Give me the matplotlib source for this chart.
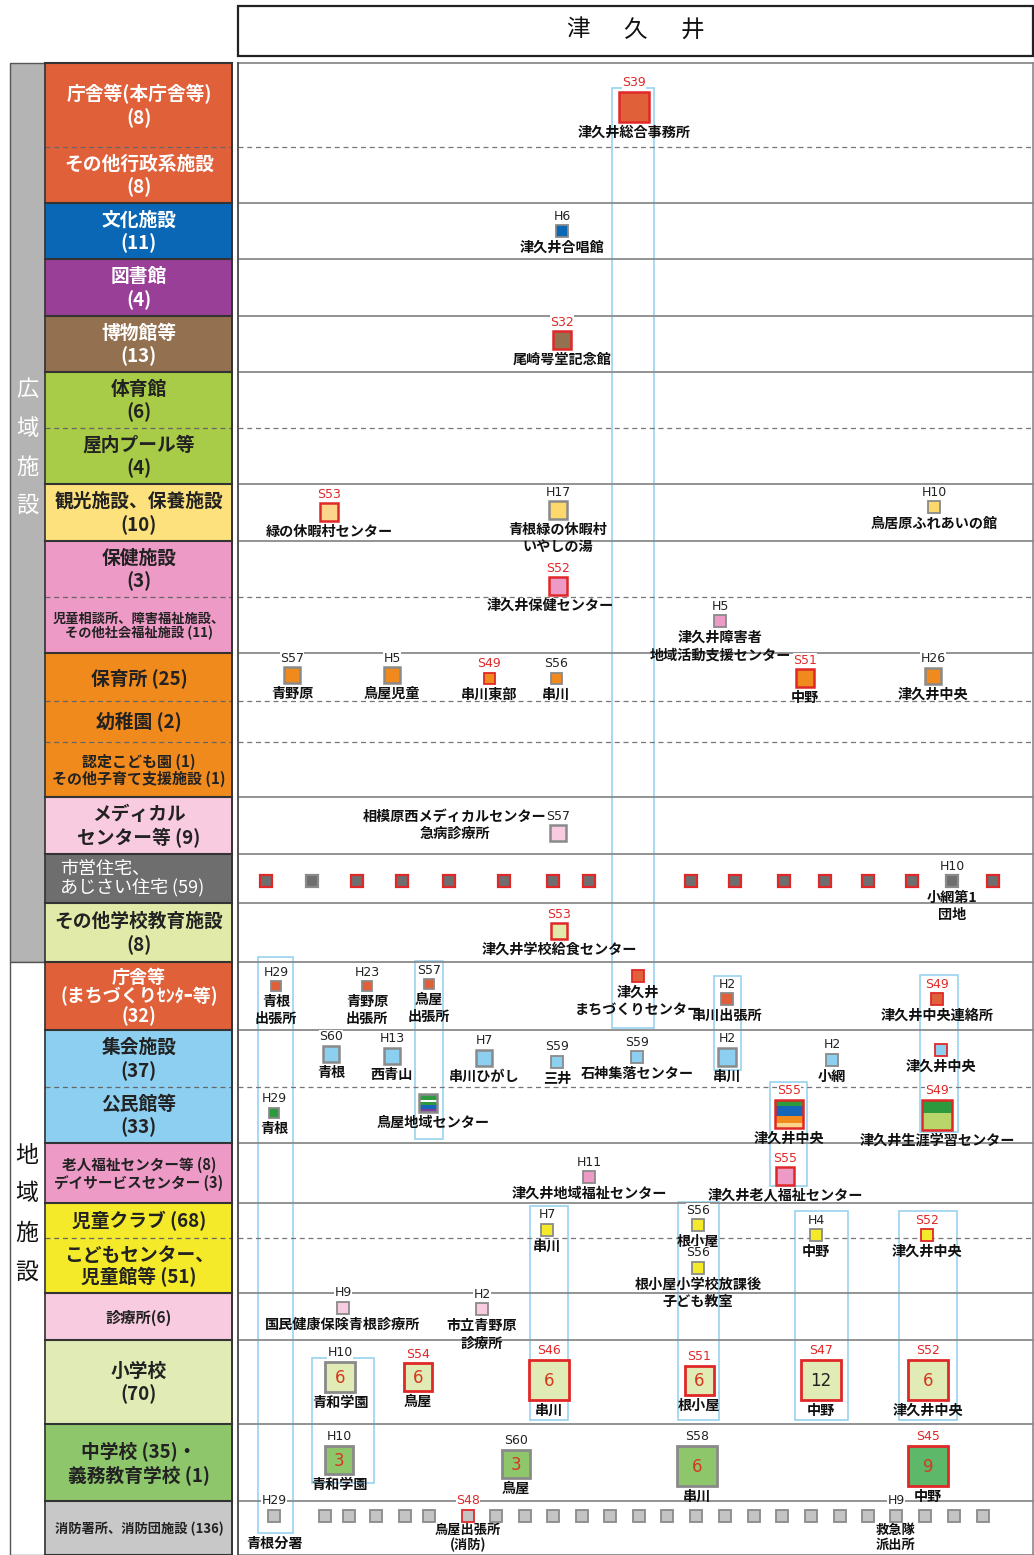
import matplotlib.pyplot as plt
from matplotlib.patches import Rectangle

plt.rcParams['font.family'] = ['Noto Sans CJK JP', 'DejaVu Sans']
ERA_FONT = ['Liberation Sans Narrow', 'DejaVu Sans']

W, H = 1034, 1555

# ---- category rows (label column) ----
row_labels = [
    '庁舎等(本庁舎等)\n(8)', 'その他行政系施設\n(8)', '文化施設\n(11)', '図書館\n(4)',
    '博物館等\n(13)', '体育館\n(6)', '屋内プール等\n(4)', '観光施設、保養施設\n(10)',
    '保健施設\n(3)', '児童相談所、障害福祉施設、\nその他社会福祉施設 (11)', '保育所 (25)',
    '幼稚園 (2)', '認定こども園 (1)\nその他子育て支援施設 (1)', 'メディカル\nセンター等 (9)',
    '市営住宅、\nあじさい住宅 (59)', 'その他学校教育施設\n(8)',
    '庁舎等\n(まちづくりｾﾝﾀｰ等)\n(32)', '集会施設\n(37)', '公民館等\n(33)',
    '老人福祉センター等 (8)\nデイサービスセンター (3)', '児童クラブ (68)',
    'こどもセンター、\n児童館等 (51)', '診療所(6)', '小学校\n(70)',
    '中学校 (35)・\n義務教育学校 (1)', '消防署所、消防団施設 (136)',
]
row_colors = [
    '#E0603A', '#E0603A', '#0A67B5', '#993F97', '#93704F', '#A8CC47', '#A8CC47',
    '#FDE17C', '#EE9AC7', '#EE9AC7', '#F08A1D', '#F08A1D', '#F08A1D', '#F8CBE0',
    '#6E6E6E', '#E1EAA8', '#E0603A', '#8DCFF0', '#8DCFF0', '#EE9AC7', '#F5EA2A',
    '#F5EA2A', '#F8CBE0', '#E0EBB5', '#8EC66C', '#C8C8C8',
]
row_text = ['white'] * 5 + ['#222'] * 9 + ['white', '#222', 'white'] + ['#222'] * 9
row_fsize = [13.5] * 9 + [9.5] + [13.5, 13.5, 10.8, 13.5, 13, 13.5, 13, 13.5, 13.5,
                                  10.5, 13.5, 13.5, 11, 13.5, 13.5, 9.5]
row_edges = [63, 147, 203, 259, 316, 372, 428, 484, 541, 597, 653, 701, 742, 797,
             854, 903, 962, 1030, 1087, 1143, 1203, 1238, 1293, 1340, 1424, 1501, 1555]
dashed_edges = [147, 428, 597, 701, 742, 1087, 1238]

# ---- facilities: (x, y, size, colour, built before S55, era, name) ----
colors = {
    'gov': '#E0603A', 'cult': '#0A67B5', 'mus': '#93704F', 'tour': '#FCD96A',
    'tour2': '#FAD58A', 'health': '#EE9AC7', 'nurs': '#F08A1D', 'med': '#F8CBE0',
    'house': '#6E6E6E', 'sch': '#E1EAA8', 'meet': '#8DCFF0', 'komin': '#2E9A3E',
    'elder': '#EE9AC7', 'kids': '#F5EA2A', 'clinic': '#F8CBE0', 'fire': '#C4C4C4',
    'elem': '#E0EBB5', 'jhs': '#8EC66C', 'jhs2': '#5DB86A',
}
wide_facilities = [
    (634, 107, 30, 'gov', True, 'S39', '津久井総合事務所'),
    (562, 231, 12, 'cult', False, 'H6', '津久井合唱館'),
    (562, 340, 18, 'mus', True, 'S32', '尾崎咢堂記念館'),
    (329, 512, 18, 'tour2', True, 'S53', '緑の休暇村センター'),
    (558, 510, 18, 'tour', False, 'H17', '青根緑の休暇村\nいやしの湯'),
    (934, 507, 12, 'tour', False, 'H10', '鳥居原ふれあいの館'),
    (558, 586, 18, 'health', True, 'S52', '津久井保健センター'),
    (720, 621, 12, 'health', False, 'H5', '津久井障害者\n地域活動支援センター'),
    (292, 675, 16, 'nurs', False, 'S57', '青野原'),
    (392, 675, 16, 'nurs', False, 'H5', '鳥屋児童'),
    (489, 678, 11, 'nurs', True, 'S49', '串川東部'),
    (556, 678, 11, 'nurs', False, 'S56', '串川'),
    (805, 678, 18, 'nurs', True, 'S51', '中野'),
    (933, 676, 16, 'nurs', False, 'H26', '津久井中央'),
    (558, 833, 16, 'med', False, 'S57', ''),
    (559, 931, 16, 'sch', True, 'S53', '津久井学校給食センター'),
]
local_facilities = [
    (276, 986, 10, 'gov', False, 'H29', '青根\n出張所'),
    (367, 986, 10, 'gov', False, 'H23', '青野原\n出張所'),
    (429, 984, 10, 'gov', False, 'S57', '鳥屋\n出張所'),
    (638, 976, 12, 'gov', True, '', '津久井\nまちづくりセンター'),
    (727, 999, 12, 'gov', False, 'H2', '串川出張所'),
    (937, 999, 12, 'gov', True, 'S49', '津久井中央連絡所'),
    (331, 1054, 16, 'meet', False, 'S60', '青根'),
    (392, 1056, 16, 'meet', False, 'H13', '西青山'),
    (484, 1058, 16, 'meet', False, 'H7', '串川ひがし'),
    (557, 1062, 12, 'meet', False, 'S59', '三井'),
    (637, 1057, 12, 'meet', False, 'S59', '石神集落センター'),
    (727, 1057, 18, 'meet', False, 'H2', '串川'),
    (832, 1060, 12, 'meet', False, 'H2', '小網'),
    (941, 1050, 12, 'meet', True, '', '津久井中央'),
    (274, 1113, 10, 'komin', False, 'H29', '青根'),
    (589, 1177, 12, 'elder', False, 'H11', '津久井地域福祉センター'),
    (785, 1176, 18, 'elder', True, 'S55', '津久井老人福祉センター'),
    (547, 1230, 12, 'kids', False, 'H7', '串川'),
    (698, 1225, 12, 'kids', False, 'S56', '根小屋'),
    (698, 1268, 12, 'kids', False, 'S56', '根小屋小学校放課後\n子ども教室'),
    (816, 1235, 12, 'kids', False, 'H4', '中野'),
    (927, 1235, 12, 'kids', True, 'S52', '津久井中央'),
    (343, 1308, 12, 'clinic', False, 'H9', '国民健康保険青根診療所'),
    (482, 1309, 12, 'clinic', False, 'H2', '市立青野原\n診療所'),
]
# multi-use buildings (stripe colours top -> bottom, share of height)
mixed_facilities = [
    (428, 1103, 18, False, '', '鳥屋地域センター',
     [('#2E9A3E', 0.35), ('white', 0.08), ('#2E9A3E', 0.2), ('#1565B8', 0.2), ('#7B3F98', 0.17)]),
    (789, 1114, 28, True, 'S55', '津久井中央',
     [('#2E9A3E', 0.2), ('#1565B8', 0.38), ('#F08A1D', 0.24), ('#FAD58A', 0.18)]),
    (937, 1115, 30, True, 'S49', '津久井生涯学習センター',
     [('#2E9A3E', 0.42), ('#B8D66A', 0.58)]),
]
# schools: (x, y, size, old, era, number of classes, name)
elem_schools = [
    (340, 1377, 30, False, 'H10', '6', '青和学園'),
    (418, 1377, 28, True, 'S54', '6', '鳥屋'),
    (549, 1380, 40, True, 'S46', '6', '串川'),
    (699, 1380, 29, True, 'S51', '6', '根小屋'),
    (821, 1380, 40, True, 'S47', '12', '中野'),
    (928, 1380, 40, True, 'S52', '6', '津久井中央'),
]
jhs_schools = [
    (339, 1460, 28, False, 'H10', '3', '青和学園'),
    (516, 1464, 28, False, 'S60', '3', '鳥屋'),
    (697, 1466, 40, False, 'S58', '6', '串川'),
    (928, 1466, 40, True, 'S45', '9', '中野'),
]
# municipal housing row and fire station row
housing_x = [266, 312, 357, 402, 449, 504, 553, 589, 691, 735, 784, 825, 868, 912, 952, 993]
housing_old = [True, False] + [True] * 12 + [False, True]
fire_x = [274, 325, 349, 376, 405, 429, 468, 496, 525, 553, 582, 610, 639, 667, 696,
          725, 754, 782, 811, 840, 868, 896, 925, 954, 983]
fire_named = {274: ('H29', False, '青根分署'), 468: ('S48', True, '鳥屋出張所\n(消防)'),
              896: ('H9', False, '救急隊\n派出所')}
# light blue frames joining facilities on the same site
link_boxes = [(612, 654, 88, 1028), (258, 293, 957, 1533), (415, 443, 961, 1139),
              (714, 741, 976, 1070), (920, 958, 975, 1132), (770, 807, 1082, 1186),
              (530, 568, 1206, 1420), (678, 719, 1202, 1420), (795, 848, 1211, 1420),
              (899, 957, 1211, 1420), (312, 374, 1358, 1483)]

RED = '#E02828'
GRAY_EDGE = '#8A8A8A'
NAME_FS = 10.2

fig = plt.figure(figsize=(W / 100, H / 100), dpi=100)
ax = fig.add_axes([0, 0, 1, 1])
ax.set_xlim(0, W)
ax.set_ylim(H, 0)
ax.axis('off')

# title box
ax.add_patch(Rectangle((238, 6), 795, 50, fill=False, ec='#222', lw=1.6))
for i, ch in enumerate('津久井'):
    ax.text(578 + 57 * i, 30, ch, ha='center', va='center', fontsize=17, color='#111')

# left band
ax.add_patch(Rectangle((10, 63), 35, 899, fc='#B4B4B4', ec='#555', lw=1))
ax.add_patch(Rectangle((10, 962), 35, 593, fc='white', ec='#555', lw=1))
for i, ch in enumerate('広域施設'):
    ax.text(27, 390 + i * 38.5, ch, ha='center', va='center', fontsize=16, color='white')
for i, ch in enumerate('地域施設'):
    ax.text(27, 1155 + i * 39, ch, ha='center', va='center', fontsize=16.5, color='#111')

# label cells
for i, lab in enumerate(row_labels):
    y0, y1 = row_edges[i], row_edges[i + 1]
    ax.add_patch(Rectangle((45, y0), 187, y1 - y0, fc=row_colors[i], ec='none'))
    nlines = lab.count('\n') + 1
    ls = 1.0 if nlines == 3 else (1.25 if y1 - y0 > 55 and row_fsize[i] > 12 else 1.08)
    if lab.startswith('市営'):
        ax.text(60, (y0 + y1) / 2, lab, ha='left', va='center', fontsize=row_fsize[i],
                color=row_text[i], linespacing=1.0)
    else:
        ax.text(139, (y0 + y1) / 2 + 1, lab, ha='center', va='center', fontsize=row_fsize[i],
                color=row_text[i], linespacing=ls, fontweight='bold')
for e in row_edges:
    if e in dashed_edges:
        ax.plot([45, 232], [e, e], color='#666', lw=0.9, ls=(0, (4, 3)))
        ax.plot([238, 1033], [e, e], color='#777', lw=0.9, ls=(0, (4, 3)))
    else:
        ax.plot([45, 232], [e, e], color='#333', lw=1.5)
        ax.plot([238, 1033], [e, e], color='#8A8A8A', lw=1.3)
ax.plot([45, 45], [63, 1555], color='#333', lw=1.2)
ax.plot([232, 232], [63, 1555], color='#333', lw=1.4)
ax.plot([238, 238], [63, 1555], color='#555', lw=1.4)
ax.plot([1033, 1033], [63, 1555], color='#888', lw=1.2)

for x0, x1, y0, y1 in link_boxes:
    ax.add_patch(Rectangle((x0, y0), x1 - x0, y1 - y0, fill=False, ec='#8FD0EE', lw=1.1))


def era_label(x, y, s, era, old):
    if era:
        ax.text(x, y - s / 2 - 9, era, ha='center', va='center', fontsize=9,
                family=ERA_FONT, color=RED if old else '#222',
                bbox=dict(fc='white', ec='none', pad=0.3))


def name_label(x, y, s, name, ls=1.3, fs=NAME_FS):
    if name:
        ax.text(x, y + s / 2 + 4, name, ha='center', va='top', fontsize=fs,
                color='#111', linespacing=ls, fontweight='bold')


def box(x, y, s, face, old, lw=None):
    ax.add_patch(Rectangle((x - s / 2, y - s / 2), s, s, fc=face,
                           ec=RED if old else GRAY_EDGE,
                           lw=lw if lw else (1.8 if s >= 16 else 1.3), zorder=3))


name_shift = {'津久井保健センター': -8}
for x, y, s, c, old, era, name in wide_facilities + local_facilities:
    box(x, y, s, colors[c], old)
    era_label(x, y, s, era, old)
    name_label(x + name_shift.get(name, 0), y, s, name)
ax.text(455, 825, '相模原西メディカルセンター\n急病診療所', ha='center', va='center',
        fontsize=NAME_FS, color='#111', linespacing=1.3, fontweight='bold')

for x, y, s, old, era, name, stripes in mixed_facilities:
    top = y - s / 2
    for col, frac in stripes:
        ax.add_patch(Rectangle((x - s / 2, top), s, s * frac, fc=col, ec='none', zorder=3))
        top += s * frac
    ax.add_patch(Rectangle((x - s / 2, y - s / 2), s, s, fill=False,
                           ec=RED if old else GRAY_EDGE, lw=1.8, zorder=4))
    era_label(x, y, s, era, old)
    name_label(x + (5 if s < 20 else 0), y, s, name)

for schools, key in [(elem_schools, 'elem'), (jhs_schools, 'jhs')]:
    for x, y, s, old, era, num, name in schools:
        face = colors['jhs2'] if (key == 'jhs' and old) else colors[key]
        box(x, y, s, face, old, lw=2.0)
        ax.text(x, y + 1, num, ha='center', va='center', fontsize=12, family='DejaVu Sans',
                color='#222' if num == '12' else '#D4381E', zorder=5)
        era_label(x, y, s, era, old)
        name_label(x, y, s, name)

for x, old in zip(housing_x, housing_old):
    box(x, 881, 12, colors['house'], old, lw=1.6)
era_label(952, 881, 12, 'H10', False)
name_label(952, 881, 12, '小網第1\n団地')

for x in fire_x:
    era, old, name = fire_named.get(x, ('', False, ''))
    box(x, 1516, 12, colors['fire'], old, lw=1.3)
    era_label(x, 1516, 12, era, old)
    if x == 274:
        ax.text(x, 1544, name, ha='center', va='center', fontsize=NAME_FS, color='#111',
                fontweight='bold')
    else:
        ax.text(x, 1523, name, ha='center', va='top', fontsize=9.5, color='#111',
                linespacing=1.05, fontweight='bold')

fig.savefig('out.png', dpi=100)
